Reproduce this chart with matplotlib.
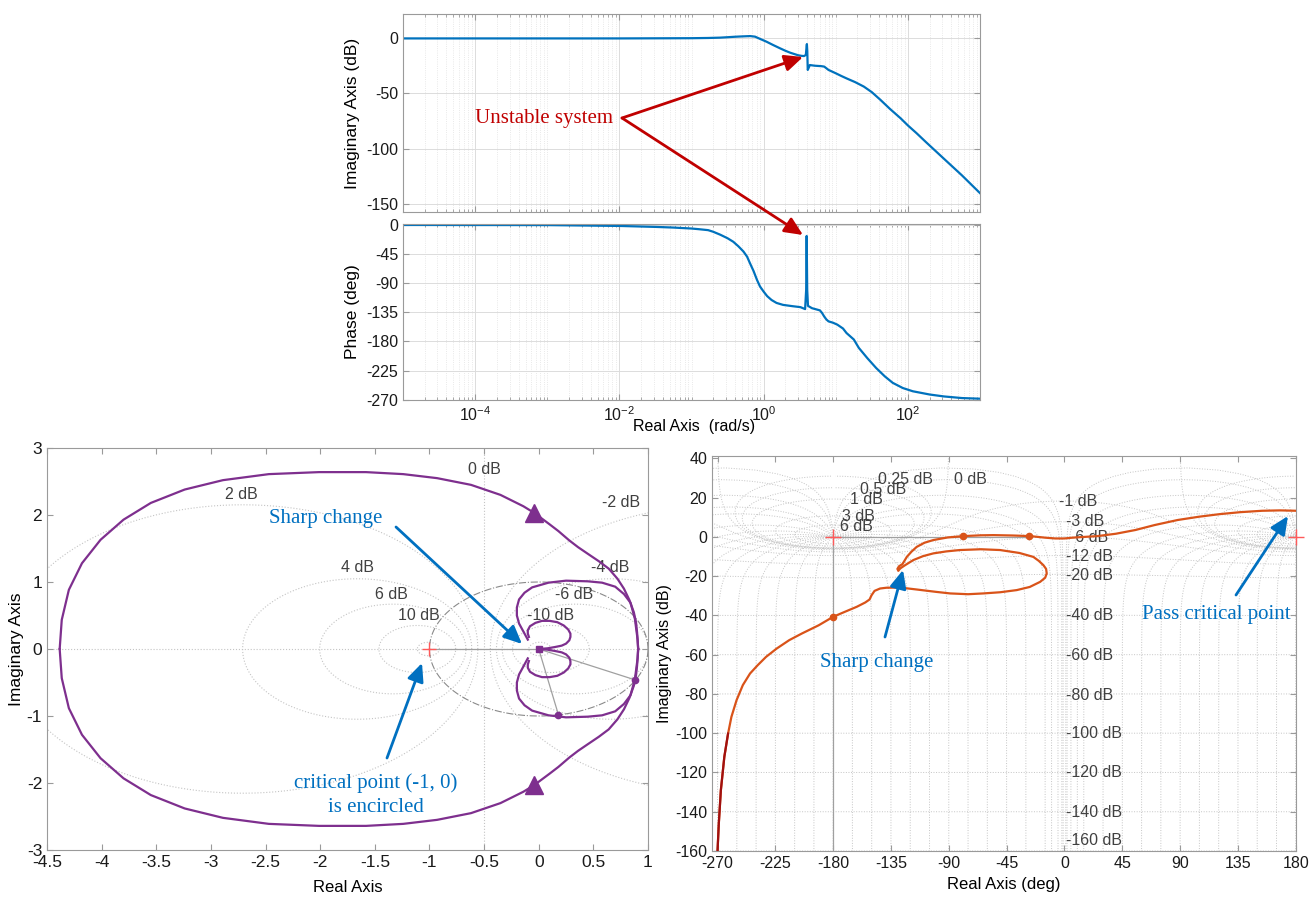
import numpy as np
import matplotlib
matplotlib.use("Agg")
import matplotlib.pyplot as plt
from matplotlib.patches import FancyArrowPatch
from matplotlib.ticker import FixedLocator, LogLocator, NullFormatter, FormatStrFormatter

plt.rcParams['font.family'] = ['Liberation Sans', 'DejaVu Sans']
plt.rcParams['axes.unicode_minus'] = False
plt.rcParams['mathtext.fontset'] = 'custom'
plt.rcParams['mathtext.rm'] = 'Liberation Sans'
plt.rcParams['mathtext.it'] = 'Liberation Sans:italic'

W, H = 1313, 898

# ---- Bode magnitude (rad/s, dB) ----
bode_w = [1e-5, 1e-3, 1e-2, 0.1, 0.17, 0.25, 0.32, 0.40, 0.50, 0.65,
          0.76, 0.89, 1.10, 1.35, 1.70, 2.00, 2.34, 2.70, 3.02, 3.35,
          3.63, 3.85, 3.94, 3.98, 4.03, 4.09, 4.22, 4.37, 5.13, 6.31,
          6.92, 7.94, 10.0, 12.0, 14.1, 18.6, 24.5, 31.6, 41.7, 56.2,
          79.4, 100, 132, 178, 316, 562, 1000]
bode_mag = [-0.6, -0.6, -0.6, -0.4, -0.2, 0.1, 0.5, 0.9, 1.2, 1.5,
            1.0, -1.0, -3.6, -6.5, -9.6, -11.7, -13.5, -14.8, -15.8, -16.3,
            -16.5, -15.5, -8.0, -5.7, -12.0, -29.0, -27.0, -24.6, -25.2, -25.6,
            -26.0, -29.0, -32.0, -34.5, -36.6, -40.0, -44.0, -49.0, -56.0, -64.0,
            -72.6, -79.0, -86.0, -94.0, -109.0, -124.0, -140.0]

# ---- Bode phase (rad/s, deg) ----
phase_w = [1e-5, 1e-3, 1e-2, 0.032, 0.056, 0.1, 0.126, 0.17, 0.2, 0.25,
           0.316, 0.38, 0.447, 0.525, 0.59, 0.646, 0.724, 0.81, 0.89, 1.0,
           1.12, 1.29, 1.51, 1.86, 2.51, 3.24, 3.76, 3.89, 3.95, 4.02,
           4.12, 4.68, 6.03, 6.46, 6.92, 7.41, 7.94, 9.12, 10.5, 12.6,
           14.1, 17.8, 20.9, 27.5, 36.3, 47.9, 61.7, 85.1, 117, 200,
           316, 562, 1000]
phase_deg = [0, -0.2, -1.5, -3, -4, -5.5, -6.5, -8, -10.5, -15,
             -20.5, -26, -33, -41, -49, -59, -71, -85, -95, -103,
             -110, -116, -120.5, -123.5, -125.5, -127, -130, -100, -17, -100,
             -125, -128.6, -132, -136, -141.5, -146, -149, -151, -154, -160,
             -167, -177, -190, -206, -221, -234, -244, -252, -257, -262,
             -265, -267.5, -268.5]

bode_xticks = [1e-4, 1e-2, 1e0, 1e2]
mag_ticks = [-150, -100, -50, 0]
phase_ticks = [-270, -225, -180, -135, -90, -45, 0]

# ---- Nyquist (upper half, mirrored for negative frequencies) ----
outer_re = [0.91, 0.90, 0.89, 0.87, 0.83, 0.78, 0.72, 0.64, 0.55, 0.45,
            0.36, 0.28, 0.18, 0.10, -0.04, -0.14, -0.35, -0.62, -0.93, -1.24,
            -1.58, -2.01, -2.47, -2.89, -3.24, -3.55, -3.80, -4.01, -4.18, -4.30,
            -4.365, -4.384]
outer_im = [0.0, 0.25, 0.40, 0.55, 0.73, 0.90, 1.05, 1.20, 1.31, 1.42,
            1.52, 1.62, 1.76, 1.86, 2.03, 2.13, 2.30, 2.45, 2.55, 2.61,
            2.64, 2.64, 2.61, 2.52, 2.38, 2.18, 1.93, 1.63, 1.28, 0.883,
            0.435, 0.0]
cloop_re = [0.91, 0.905, 0.88, 0.84, 0.78, 0.70, 0.58, 0.45, 0.25, 0.09,
            -0.06, -0.13, -0.18, -0.20, -0.20, -0.18, -0.14, -0.10]
cloop_im = [0.0, 0.14, 0.45, 0.69, 0.82, 0.93, 0.99, 1.01, 1.02, 0.99,
            0.92, 0.84, 0.74, 0.62, 0.50, 0.38, 0.26, 0.14]
lobe_re = [0.0, 0.08, 0.15, 0.21, 0.25, 0.28, 0.29, 0.29, 0.27, 0.23,
           0.17, 0.10, 0.03, -0.03, -0.08, -0.10, -0.10, -0.09]
lobe_im = [0.0, 0.01, 0.03, 0.05, 0.08, 0.13, 0.18, 0.23, 0.29, 0.35,
           0.40, 0.42, 0.42, 0.39, 0.34, 0.28, 0.23, 0.18]
nyq_dots_re = [0.88, 0.18]
nyq_dots_im = [-0.46, -0.98]
nyq_arrow_re = [-0.04, -0.04]
nyq_arrow_im = [2.03, -2.03]
nyq_grid_db = [-20, -10, -6, -4, -2, 0, 2, 4, 6, 10, 20]
nyq_labels = ['0 dB', '2 dB', '-2 dB', '4 dB', '-4 dB', '6 dB', '-6 dB', '10 dB', '-10 dB']
nyq_label_re = [-0.5, -2.72, 0.75, -1.66, 0.65, -1.35, 0.32, -1.10, 0.11]
nyq_label_im = [2.68, 2.30, 2.18, 1.21, 1.21, 0.82, 0.82, 0.50, 0.50]

# ---- Nichols (deg, dB) ----
nich_phase = [-270, -269, -267.4, -264.7, -261.8, -259.2, -255.2, -250.3, -244.7, -238.8,
              -232.2, -224.0, -214.2, -204.3, -191.2, -180, -171.4, -161.6, -155.0, -151.7,
              -150.1, -147.8, -143.5, -138.6, -127.9, -115.0, -100.0, -89.0, -75.0, -63.1,
              -50.0, -37.1, -27.0, -18.9, -15.0, -13.8, -14.3, -16.4, -20.0, -24.2,
              -35.0, -50.1, -65.0, -81.3, -92.0, -102.0, -110.0, -117.6, -124.0, -127.9,
              -129.3, -130.0, -128.8, -126.0, -122.7, -119.0, -115.0, -109.0, -102.0, -91.0,
              -78.7, -65.0, -55.3, -40.0, -26.8, -15.0, -7.2, 0.0, 6.0, 25.7,
              40.0, 55.2, 70.0, 88.1, 105.0, 121.0, 137.0, 153.8, 168.0, 180.5]
nich_db = [-160, -146, -129, -112, -100.2, -91.7, -83.2, -75.5, -69.6, -65.4,
           -61.1, -56.9, -52.6, -49.2, -45.0, -40.7, -38.3, -35.6, -33.4, -31.9,
           -29.7, -27.5, -26.3, -25.9, -25.8, -26.8, -28.0, -28.8, -29.2, -28.8,
           -28.2, -27.1, -25.5, -22.9, -20.8, -18.6, -16.3, -14.4, -12.2, -10.2,
           -8.2, -6.7, -6.3, -6.7, -7.4, -8.4, -9.8, -11.8, -14.4, -16.1,
           -17.3, -16.3, -15.0, -13.8, -10.2, -7.5, -5.1, -3.0, -1.6, -0.3,
           0.4, 0.8, 0.9, 0.7, 0.4, -0.4, -0.8, -0.8, -0.4, 0.4,
           1.6, 3.5, 6.0, 8.6, 10.3, 11.6, 12.6, 13.3, 13.5, 13.3]
nich_dots_phase = [-180, -78.8, -27.6]
nich_dots_db = [-40.7, 0.4, 0.4]
ngrid_mag_db = [6, 3, 1, 0.5, 0.25, 0, -1, -3, -6, -12, -20, -40, -60, -80,
                -100, -120, -140, -160]
ngrid_phase = [-1, -2, -5, -10] + list(range(-15, -346, -15)) + [-350, -355, -358, -359]
nich_labels = ['0.25 dB', '0.5 dB', '1 dB', '3 dB', '6 dB', '0 dB', '-1 dB', '-3 dB',
               '-6 dB', '-12 dB', '-20 dB', '-40 dB', '-60 dB', '-80 dB', '-100 dB',
               '-120 dB', '-140 dB', '-160 dB']
nich_label_x = [-145, -159, -167, -173, -175, -86, -4, 1, 4, 1, 1, 1, 1, 1, 1, 1, 1, 1]
nich_label_y = [29.3, 24.2, 18.8, 10.3, 5.5, 29.3, 17.9, 7.7, -0.3, -9.8, -19.5, -39.9,
                -60.3, -80.6, -100.2, -120.2, -140.5, -154.9]

BLUE = '#0072BD'
PURPLE = '#7E2F8E'
ORANGE = '#D95319'
RED = '#C00000'
ABLUE = '#0070C0'
GRIDC = '#c4c4c4'

fig = plt.figure(figsize=(W / 100, H / 100), dpi=100)


def px_rect(l, t, r, b):
    return [l / W, 1 - b / H, (r - l) / W, (b - t) / H]


def fpx(x, y):
    return (x / W, 1 - y / H)


def style(ax, fs):
    for s in ax.spines.values():
        s.set_color('#9a9a9a')
        s.set_linewidth(0.8)
    ax.tick_params(which='both', direction='in', top=True, right=True,
                   color='#9a9a9a', labelcolor='#1a1a1a', labelsize=fs)
    ax.tick_params(which='major', length=4)
    ax.tick_params(which='minor', length=2)


def ylabel_at(ax, text, fs, x_px, left, width):
    ax.set_ylabel(text, fontsize=fs)
    ax.yaxis.label.set_va('center')
    ax.yaxis.set_label_coords((x_px - left) / width, 0.5)


# ---------------- Bode ----------------
ax_mag = fig.add_axes(px_rect(403, 14, 980, 212))
ax_ph = fig.add_axes(px_rect(403, 224, 980, 400))
for ax in (ax_mag, ax_ph):
    ax.set_xscale('log')
    ax.set_xlim(1e-5, 1e3)
    ax.xaxis.set_major_locator(FixedLocator(bode_xticks))
    ax.xaxis.set_minor_locator(LogLocator(base=10, subs=np.arange(1, 10), numticks=60))
    ax.xaxis.set_minor_formatter(NullFormatter())
    ax.grid(which='major', color='#dcdcdc', lw=0.7)
    ax.grid(which='minor', axis='x', color='#e2e2e2', lw=0.6, ls=':')
    style(ax, 11.5)

ax_mag.plot(bode_w, bode_mag, color=BLUE, lw=1.6)
ax_mag.set_ylim(-157, 21.4)
ax_mag.set_yticks(mag_ticks)
ax_mag.tick_params(labelbottom=False)
ylabel_at(ax_mag, 'Imaginary Axis (dB)', 12.5, 352, 403, 577)

ax_ph.plot(phase_w, phase_deg, color=BLUE, lw=1.6)
ax_ph.set_ylim(-270.5, 1.5)
ax_ph.set_yticks(phase_ticks)
ylabel_at(ax_ph, 'Phase (deg)', 12.5, 352, 403, 577)
ax_ph.set_xlabel('Real Axis  (rad/s)', fontsize=11.5)
ax_ph.xaxis.set_label_coords(0.504, -0.153)
ax_ph.xaxis.label.set_va('center')

fig.text(*fpx(544, 118), 'Unstable system', color=RED, fontsize=15,
         family=['Liberation Serif'], ha='center', va='center')

# ---------------- Nyquist ----------------
ax_nq = fig.add_axes(px_rect(47, 448, 648, 850))
style(ax_nq, 12.5)
th = np.linspace(0, 2 * np.pi, 721)
for m in nyq_grid_db:
    if m == 0:
        ax_nq.axvline(-0.5, color=GRIDC, lw=0.8, ls=':', zorder=1)
        continue
    M = 10 ** (m / 20)
    c = -M ** 2 / (M ** 2 - 1)
    r = abs(M / (M ** 2 - 1))
    ax_nq.plot(c + r * np.cos(th), r * np.sin(th), color=GRIDC, lw=0.8, ls=':', zorder=1)
ax_nq.axhline(0, color=GRIDC, lw=0.8, ls=':', zorder=1)
ax_nq.plot(np.cos(th), np.sin(th), color='#8a8a8a', lw=0.8, ls='-.', zorder=1)
for s, x, y in zip(nyq_labels, nyq_label_re, nyq_label_im):
    ax_nq.text(x, y, s, ha='center', va='center', fontsize=11.5, color='#404040', zorder=2)

# margin lines
ax_nq.plot([-1, 0], [0, 0], color='#a0a0a0', lw=0.9, zorder=2)
for x, y in zip(nyq_dots_re, nyq_dots_im):
    ax_nq.plot([0, x], [0, y], color='#a0a0a0', lw=0.9, zorder=2)

for xs, ys in ((outer_re, outer_im), (cloop_re, cloop_im), (lobe_re, lobe_im)):
    ax_nq.plot(xs, ys, color=PURPLE, lw=1.6, zorder=3)
    ax_nq.plot(xs, -np.array(ys), color=PURPLE, lw=1.6, zorder=3)
ax_nq.plot(nyq_arrow_re, nyq_arrow_im, ls='none', marker='^', ms=13, color=PURPLE, zorder=4)
ax_nq.plot(nyq_dots_re, nyq_dots_im, ls='none', marker='o', ms=4.5, color=PURPLE, zorder=4)
ax_nq.plot([0], [0], ls='none', marker='s', ms=5, color=PURPLE, zorder=4)
ax_nq.plot([-1], [0], ls='none', marker='+', ms=10, mew=1.0, color='#ff5a5a', zorder=4)

ax_nq.set_xlim(-4.5, 1)
ax_nq.set_ylim(-3, 3)
ax_nq.set_xticks(np.arange(-4.5, 1.01, 0.5))
ax_nq.set_yticks(np.arange(-3, 3.1, 1))
ax_nq.xaxis.set_major_formatter(FormatStrFormatter('%g'))
ax_nq.yaxis.set_major_formatter(FormatStrFormatter('%g'))
ax_nq.set_xlabel('Real Axis', fontsize=12)
ax_nq.xaxis.set_label_coords(0.5, -0.0945)
ax_nq.xaxis.label.set_va('center')
ylabel_at(ax_nq, 'Imaginary Axis', 12.5, 17, 47, 601)

fig.text(*fpx(326, 519), 'Sharp change', color=ABLUE, fontsize=15,
         family=['Liberation Serif'], ha='center', va='center')
fig.text(*fpx(376, 783), 'critical point (-1, 0)', color=ABLUE, fontsize=15,
         family=['Liberation Serif'], ha='center', va='center')
fig.text(*fpx(376, 807), 'is encircled', color=ABLUE, fontsize=15,
         family=['Liberation Serif'], ha='center', va='center')

# ---------------- Nichols ----------------
ax_nc = fig.add_axes(px_rect(712, 456, 1296, 851))
style(ax_nc, 11.5)
phi = np.deg2rad(np.linspace(-359.95, -0.05, 4000))
for m in ngrid_mag_db:
    T = 10 ** (m / 20) * np.exp(1j * phi)
    G = T / (1 - T)
    ph = np.rad2deg(phi - np.angle(1 - T))
    mag = 20 * np.log10(np.abs(G))
    for shift in (0, 360):
        ax_nc.plot(ph + shift, mag, color=GRIDC, lw=0.7, ls=':', zorder=1)
Mg = np.logspace(-9, 5, 4000)
for p in ngrid_phase:
    T = Mg * np.exp(1j * np.deg2rad(p))
    G = T / (1 - T)
    ph = p - np.rad2deg(np.angle(1 - T))
    mag = 20 * np.log10(np.abs(G))
    for shift in (0, 360):
        ax_nc.plot(ph + shift, mag, color=GRIDC, lw=0.7, ls=':', zorder=1)
for s, x, y in zip(nich_labels, nich_label_x, nich_label_y):
    ax_nc.text(x, y, s, ha='left', va='center', fontsize=11.5, color='#404040', zorder=2)

ax_nc.plot([-180, -180], [-160, 0], color='#a0a0a0', lw=0.9, zorder=2)
ax_nc.plot([-180, -27.6], [0, 0], color='#a0a0a0', lw=0.9, zorder=2)
ax_nc.plot(nich_phase, nich_db, color=ORANGE, lw=1.6, zorder=3)
ax_nc.plot(nich_phase[:5], nich_db[:5], color='#A01010', lw=1.6, zorder=3)
ax_nc.plot(nich_dots_phase, nich_dots_db, ls='none', marker='o', ms=4.5, color=ORANGE, zorder=4)
ax_nc.plot([-180, 180], [0, 0], ls='none', marker='+', ms=12, mew=1.0, color='#ff5a5a',
           zorder=4, clip_on=False)

ax_nc.set_xlim(-274.3, 180.2)
ax_nc.set_ylim(-160, 41.2)
ax_nc.set_xticks(np.arange(-270, 181, 45))
ax_nc.set_yticks(np.arange(-160, 41, 20))
ax_nc.set_xlabel('Real Axis (deg)', fontsize=12)
ax_nc.xaxis.set_label_coords(0.5, -0.086)
ax_nc.xaxis.label.set_va('center')
ylabel_at(ax_nc, 'Imaginary Axis (dB)', 11.5, 665, 712, 584)

fig.text(*fpx(877, 662), 'Sharp change', color=ABLUE, fontsize=15,
         family=['Liberation Serif'], ha='center', va='center')
fig.text(*fpx(1216, 615), 'Pass critical point', color=ABLUE, fontsize=15,
         family=['Liberation Serif'], ha='center', va='center')

# ---------------- arrows (figure pixels) ----------------
arrows = [((622, 118), (803, 57), RED), ((622, 118), (803, 235), RED),
          ((396, 527), (522, 644), ABLUE), ((387, 758), (422, 663), ABLUE),
          ((885, 637), (903, 570), ABLUE), ((1236, 595), (1288, 516), ABLUE)]
for a, b, col in arrows:
    fig.add_artist(FancyArrowPatch(fpx(*a), fpx(*b), transform=fig.transFigure,
                                   arrowstyle='-|>,head_length=0.55,head_width=0.25',
                                   mutation_scale=20, color=col, lw=2,
                                   shrinkA=0, shrinkB=0, zorder=10))

fig.savefig('out.png', dpi=100)
